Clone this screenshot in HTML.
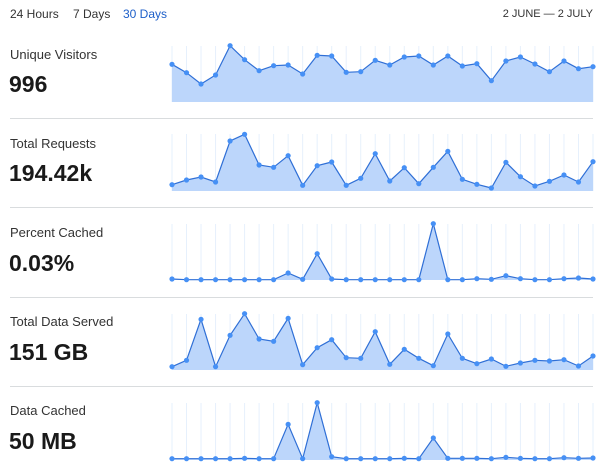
<!DOCTYPE html>
<html><head><meta charset="utf-8"><style>
body{margin:0;width:600px;height:475px;background:#fff;font-family:"Liberation Sans",sans-serif;color:#222;position:relative;overflow:hidden}
.t{position:absolute;white-space:nowrap}
.tab{top:7px;font-size:12px;color:#333}
.lbl{font-size:13px;color:#333}
.val{font-size:23px;font-weight:bold;color:#1a1a1a}
.sep{position:absolute;left:10px;width:583px;height:1px;background:#d9dcde}
svg{position:absolute;left:0;top:0}
</style></head><body>
<div class="t tab" style="left:10px">24 Hours</div>
<div class="t tab" style="left:73px">7 Days</div>
<div class="t tab" style="left:123px;color:#1d5fc9">30 Days</div>
<div class="t tab" style="right:7px;font-size:11px;top:8px">2 JUNE — 2 JULY</div>

<div class="t lbl" style="left:10px;top:47px">Unique Visitors</div>
<div class="t val" style="left:9px;top:71px">996</div>
<div class="sep" style="top:118px"></div>
<div class="t lbl" style="left:10px;top:136px">Total Requests</div>
<div class="t val" style="left:9px;top:160px">194.42k</div>
<div class="sep" style="top:207px"></div>
<div class="t lbl" style="left:10px;top:225px">Percent Cached</div>
<div class="t val" style="left:9px;top:250px">0.03%</div>
<div class="sep" style="top:297px"></div>
<div class="t lbl" style="left:10px;top:314px">Total Data Served</div>
<div class="t val" style="left:9px;top:339px">151 GB</div>
<div class="sep" style="top:386px"></div>
<div class="t lbl" style="left:10px;top:403px">Data Cached</div>
<div class="t val" style="left:9px;top:428px">50 MB</div>

<svg id="s" width="600" height="475"></svg>
<script>
var charts=[
{o:30,top:46,base:102,d:[103,128,162,135,47,89,122,107,105,132,76,78,127,125,91,105,81,78,105,78,108,101,152,93,81,102,125,93,116,110]},
{o:30,top:134,base:191,d:[464,450,441,456,333,313,405,412,377,466,407,396,466,445,371,453,413,461,412,364,448,463,474,397,440,468,454,435,456,395]},
{o:210,top:224,base:280,d:[207,209,209,209,209,209,209,209,189,208,131,207,209,209,209,209,209,209,41,209,209,206,208,197,206,209,209,206,204,207]},
{o:210,top:314,base:370,d:[470,451,328,470,376,311,387,394,325,464,413,389,443,445,365,463,418,445,467,372,445,461,447,469,459,451,453,449,468,438]},
{o:385,top:403,base:460,d:[221,221,221,221,221,220,221,221,118,221,53,215,221,221,221,221,220,221,159,220,220,220,221,217,220,221,221,218,220,219]}
];
var h='';
charts.forEach(function(c){
 var pts=c.d.map(function(v,i){return [172+i*(421/29),v/3+c.o];});
 pts.forEach(function(p){h+='<line x1="'+p[0]+'" x2="'+p[0]+'" y1="'+c.top+'" y2="'+c.base+'" stroke="#e6f0fc" stroke-width="1"/>';});
 var line=pts.map(function(p){return p[0].toFixed(1)+','+p[1].toFixed(1);}).join(' ');
 h+='<polygon points="172,'+c.base+' '+line+' 593,'+c.base+'" fill="#bcd6fb"/>';
 h+='<polyline points="'+line+'" fill="none" stroke="#2f6fd6" stroke-width="1.2"/>';
 pts.forEach(function(p){h+='<circle cx="'+p[0]+'" cy="'+p[1]+'" r="2.6" fill="#4690f5"/>';});
});
document.getElementById('s').innerHTML=h;
</script>
</body></html>
